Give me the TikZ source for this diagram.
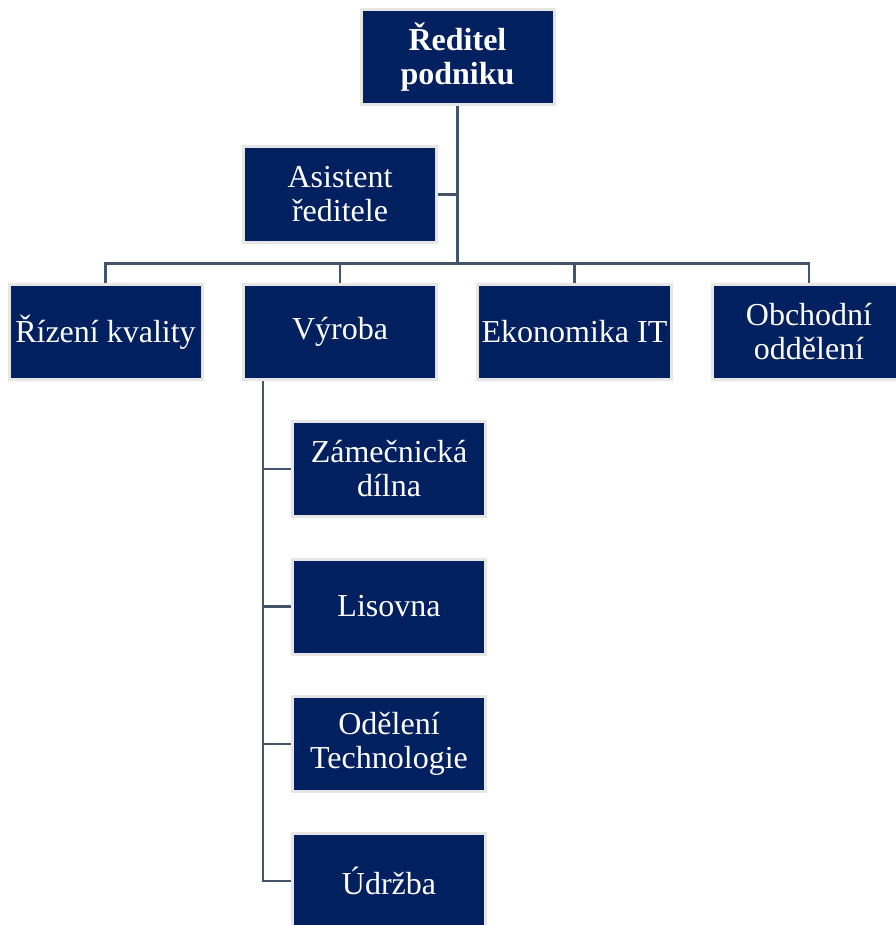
\documentclass[tikz,border=0pt]{standalone}
\usepackage{fontspec}
\setmainfont{Liberation Serif}
\usepackage{tikz}
\usetikzlibrary{calc}
\definecolor{navy}{RGB}{0,32,96}
\definecolor{rim}{RGB}{230,230,230}
\definecolor{wire}{RGB}{68,84,106}
\tikzstyle{box}=[draw=rim, line width=1.5pt, fill=navy, text=white, align=center, minimum width=96.5pt, minimum height=47.5pt, inner sep=2pt, font=\fontsize{16pt}{17pt}\selectfont]
\tikzstyle{link}=[draw=wire, line width=1.1pt]

\begin{document}
\begin{tikzpicture}[node distance=117.25pt]
        \useasboundingbox (0,0) rectangle (447.5pt,-462.5pt);
        \node [box, font=\fontsize{16pt}{17pt}\selectfont\bfseries] (dir) at (228.75pt,-28.5pt) {Ředitel\\podniku};
        \node [box] (asist) [below of=dir, xshift=-58.75pt, node distance=68.75pt] {Asistent\\ředitele};
        \node [box] (vyroba) [below of=asist, node distance=68.75pt] {Výroba};
        \node [box] (rizeni) [left of=vyroba] {Řízení kvality};
        \node [box] (ekon) [right of=vyroba] {Ekonomika IT};
        \node [box] (obch) [right of=ekon] {Obchodní\\oddělení};
        \node [box] (zamec) [below of=vyroba, xshift=24.5pt, node distance=68.5pt] {Zámečnická\\dílna};
        \node [box] (lisovna) [below of=zamec, node distance=68.75pt] {Lisovna};
        \node [box] (odeleni) [below of=lisovna, node distance=68.75pt] {Odělení\\Technologie};
        \node [box] (udrzba) [below of=odeleni, node distance=68.5pt] {Údržba};
        \coordinate (bus) at (dir.south |- 0,-131.75pt);
        \coordinate (spine) at ($(vyroba.south)+(-38.5pt,0)$);
        \path[link] (dir) -- (bus);
        \path[link] (asist.east) -- (asist.east -| dir.south);
        \path[link] (rizeni.north) |- (bus) -| (obch.north);
        \path[link] (vyroba.north) -- (vyroba.north |- bus);
        \path[link] (ekon.north) -- (ekon.north |- bus);
        \path[link] (spine) |- (udrzba.west);
        \foreach \n in {zamec,lisovna,odeleni}
            \path[link] (\n.west) -- (\n.west -| spine);
    \end{tikzpicture}
\end{document}
